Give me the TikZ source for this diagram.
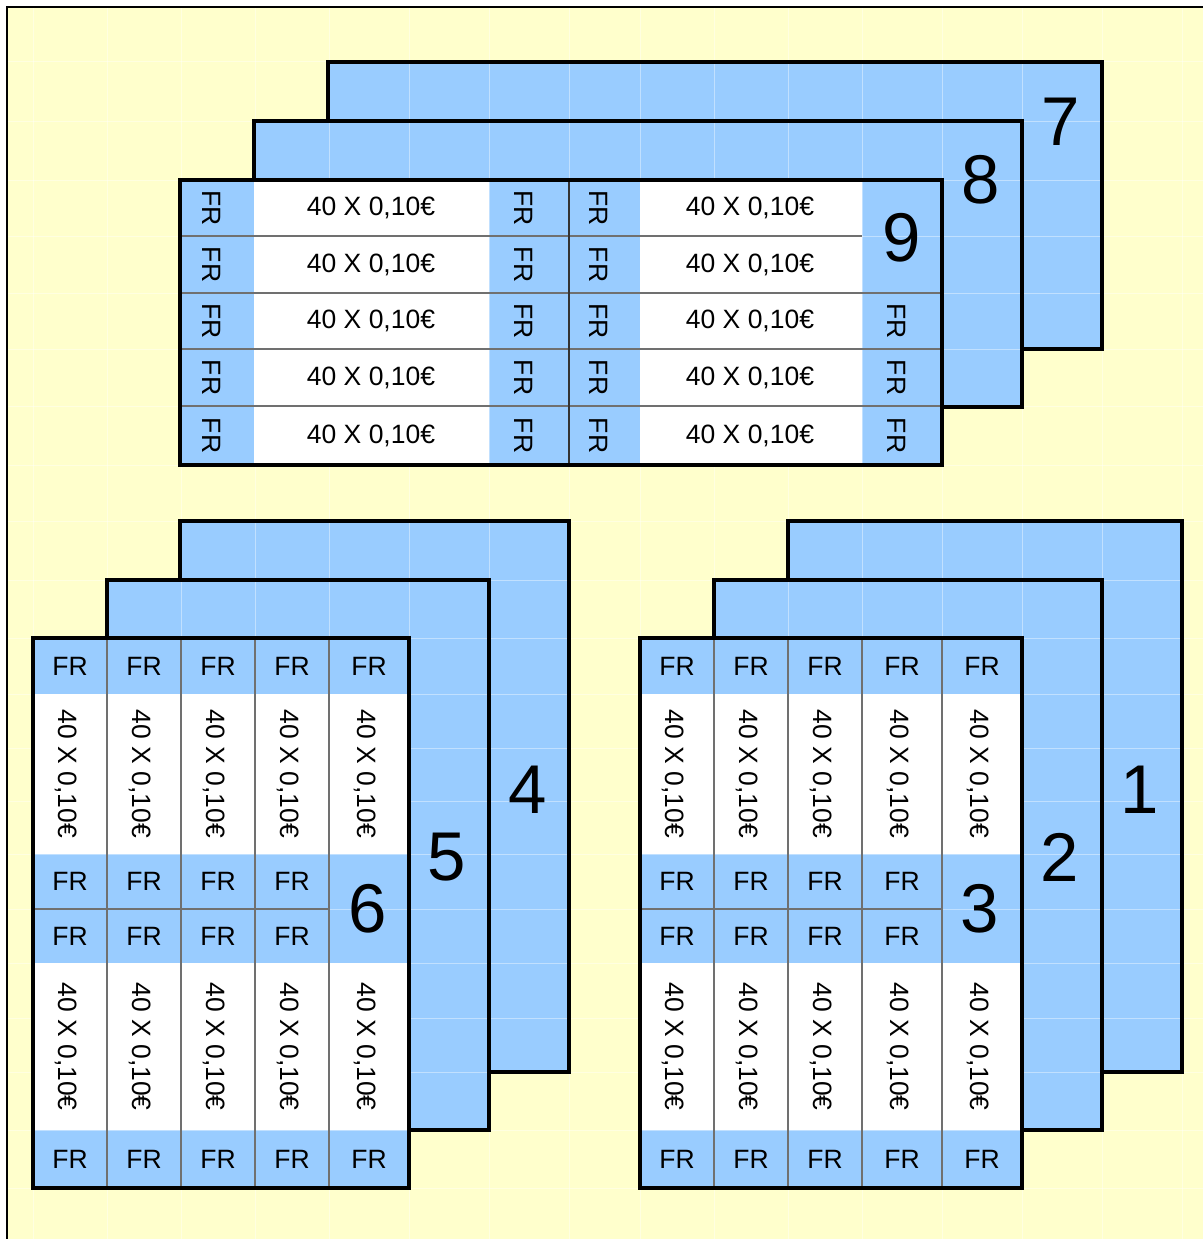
\documentclass[tikz,border=0pt]{standalone}
\usepackage{fontspec}
\setmainfont{Liberation Sans}
\definecolor{bg}{HTML}{FFFFCC}
\definecolor{cellblue}{HTML}{99CCFF}
\definecolor{sepgray}{HTML}{707070}
\newcommand\sheetgridlines{%
  \foreach \x in {33,107,181,255,329,409,489,569,640,714,788,862,942,1022,1102,1182}
    \draw[gridline] (\x,7) -- (\x,1239);
  \foreach \y in {62,121,180,236,293,349,406,465,521,580,638,694,748,801,854,909,963,1018,1072,1130,1188}
    \draw[gridline] (7,\y) -- (1203,\y);}
\newcommand\gridcard[4]{%
  \fill[cellblue] (#1,#2) rectangle (#3,#4);
  \begin{scope}\clip (#1,#2) rectangle (#3,#4); \sheetgridlines \end{scope}
  \draw[frame] (#1,#2) rectangle (#3,#4);}
\begin{document}
\begin{tikzpicture}[x=1pt,y=-1pt,
  frame/.style={draw=black, line width=3.4pt},
  sep/.style={draw=sepgray, line width=1.5pt},
  sepdark/.style={draw=black!80, line width=2pt},
  gridline/.style={draw=white, opacity=0.4, line width=1pt},
  lab/.style={font=\fontsize{26.5}{26.5}\selectfont, inner sep=0pt},
  vlab/.style={lab, rotate=-90},
  num/.style={font=\fontsize{69}{69}\selectfont, inner sep=0pt}]
\useasboundingbox (0,0) rectangle (1203,1239);
\fill[white] (0,0) rectangle (1203,1239);
\fill[bg] (7,7) rectangle (1203,1239);
\sheetgridlines
% sheet border
\draw[black, line width=2pt] (7,1239) -- (7,7) -- (1203,7);

% ---------- top group (7, 8, 9)
\gridcard{328}{62}{1102}{349}
\gridcard{254}{121}{1022}{407}
\fill[cellblue] (180,180) rectangle (942,465);
\begin{scope}\clip (180,180) rectangle (942,465); \sheetgridlines \end{scope}
\fill[white] (254,180) rectangle (489,465);
\fill[white] (640,180) rectangle (862,465);
\draw[sep] (180,236) -- (862,236);
\foreach \y in {293,349,406} \draw[sep] (180,\y) -- (942,\y);
\draw[sepdark] (569,180) -- (569,465);
\draw[frame] (180,180) rectangle (942,465);

% ---------- lower groups
\gridcard{180}{521}{569}{1072}
\gridcard{107}{580}{489}{1130}
\gridcard{788}{521}{1182}{1072}
\gridcard{714}{580}{1102}{1130}
\foreach \xa/\xb/\xc/\xd/\xe/\xf in {33/107/181/255/329/409, 640/714/788/862/942/1022}{
  \fill[cellblue] (\xa,638) rectangle (\xf,1188);
  \begin{scope}\clip (\xa,638) rectangle (\xf,1188); \sheetgridlines \end{scope}
  \fill[white] (\xa,694) rectangle (\xf,854);
  \fill[white] (\xa,963) rectangle (\xf,1130);
  \foreach \x in {\xb,\xc,\xd,\xe} \draw[sep] (\x,638) -- (\x,1188);
  \draw[sep] (\xa,909) -- (\xe,909);
  \draw[frame] (\xa,638) rectangle (\xf,1188);
}

% ---------- texts of the top table
\foreach \y [count=\r] in {208,264.5,321,377.5,435.5}{
  \node[vlab] (t-a-\r) at (212,\y) {FR};
  \node[lab]  (t-b-\r) at (371,\y) {40 X 0,10€};
  \node[vlab] (t-c-\r) at (524,\y) {FR};
  \node[vlab] (t-d-\r) at (599,\y) {FR};
  \node[lab]  (t-e-\r) at (750,\y) {40 X 0,10€};
}
\foreach \y [count=\r from 3] in {321,377.5,435.5}
  \node[vlab] (t-f-\r) at (897,\y) {FR};

% ---------- texts of the lower tables
\foreach \g/\xa/\xb/\xc/\xd/\xe/\xf in {L/33/107/181/255/329/409, R/640/714/788/862/942/1022}{
  \foreach \l/\r [count=\k] in {\xa/\xb,\xb/\xc,\xc/\xd,\xd/\xe,\xe/\xf}{
    \node[lab]  (\g-top-\k) at ({(\l+\r)/2},666) {FR};
    \node[vlab] (\g-up-\k)  at ({(\l+\r)/2-4},774) {40 X 0,10€};
    \node[vlab] (\g-lo-\k)  at ({(\l+\r)/2-4},1046.5) {40 X 0,10€};
    \node[lab]  (\g-bot-\k) at ({(\l+\r)/2},1159) {FR};
    \ifnum\k<5
      \node[lab] (\g-m1-\k) at ({(\l+\r)/2},881.5) {FR};
      \node[lab] (\g-m2-\k) at ({(\l+\r)/2},936) {FR};
    \fi
  }
}

% ---------- big numbers
\node[num] (n7) at (1061,122) {7};
\node[num] (n8) at (981,180) {8};
\node[num] (n9) at (902,238) {9};
\node[num] (n4) at (528,790) {4};
\node[num] (n5) at (447,857) {5};
\node[num] (n6) at (368,909) {6};
\node[num] (n1) at (1140,790) {1};
\node[num] (n2) at (1060,857) {2};
\node[num] (n3) at (980,909) {3};
\end{tikzpicture}
\end{document}
